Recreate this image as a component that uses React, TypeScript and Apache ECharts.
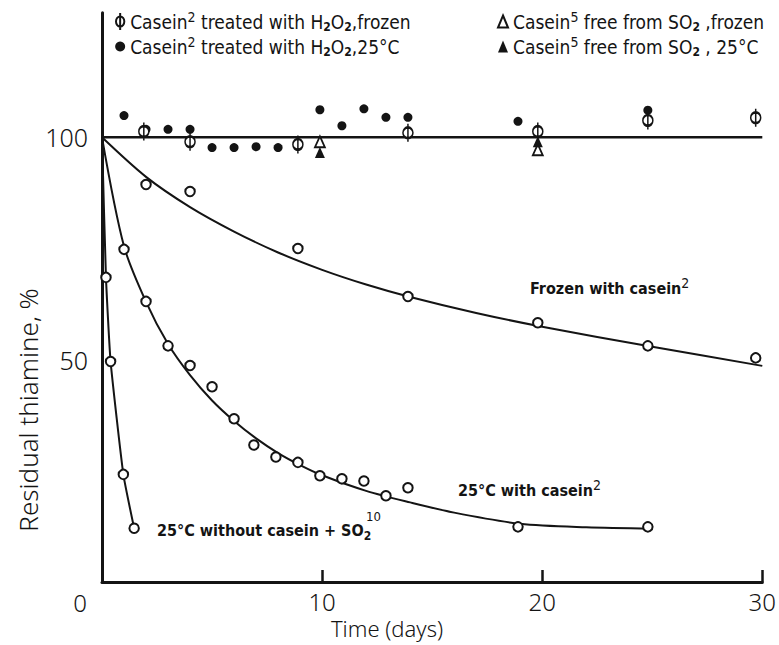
import React, { useEffect, useRef } from 'react';
import * as echarts from 'echarts';

// ---- axis ticks ----
const xTicks = [0, 10, 20, 30];
const yTicks = [0, 50, 100];

// ---- data (x = days, y = residual thiamine %) ----
const h2o2FrozenPts = [[1.9, 101.3], [4, 99.0], [8.9, 98.4], [13.9, 101.0], [19.8, 101.3], [24.8, 103.8], [29.7, 104.4]];
const h2o2WarmPts = [[1, 104.9], [2, 101.8], [3, 101.8], [4, 101.8], [5, 97.7], [6, 97.7], [7, 97.9], [8, 97.7], [9.9, 106.2], [10.9, 102.6], [11.9, 106.4], [12.9, 104.5], [13.9, 104.5], [18.9, 103.6], [24.8, 106.1]];
const so2FreeFrozenPts = [[9.9, 99.0], [19.8, 97.2]];
const so2FreeWarmPts = [[9.9, 96.6], [19.8, 99.0]];

const frozenCaseinPts = [[2, 89.4], [4, 87.8], [8.9, 75.0], [13.9, 64.2], [19.8, 58.3], [24.8, 53.1], [29.7, 50.4]];
const frozenCaseinCurve = [[0, 100], [2, 91.1], [4, 84.3], [6, 78.8], [8, 74.1], [10, 70.2], [12, 66.9], [14, 64.1], [17, 60.5], [20, 57.4], [25, 52.9], [30, 48.6]];

const warmCaseinPts = [[1, 74.8], [2, 63.1], [3, 53.1], [4, 48.7], [5, 43.9], [6, 36.7], [6.9, 30.8], [7.9, 28.1], [8.9, 26.9], [9.9, 23.9], [10.9, 23.2], [11.9, 22.7], [12.9, 19.4], [13.9, 21.2], [18.9, 12.4], [24.8, 12.4]];
const warmCaseinCurve = [[0, 100], [1, 75.5], [2, 63], [3, 53.5], [4, 46.5], [5, 40.8], [6, 36.2], [7, 32.3], [8, 29.0], [9, 26.3], [10, 24.0], [12, 20.5], [14, 17.9], [16, 15.6], [19, 13.1], [22, 12.3], [25, 12.0]];

const noCaseinPts = [[0.18, 68.5], [0.39, 49.6], [0.97, 24.2], [1.46, 12.1]];
const noCaseinCurve = [[0, 100], [0.18, 68.5], [0.39, 49.6], [0.97, 24.2], [1.46, 12.1]];

const controlLine = [[0, 100], [30, 100]];

// ---- names / labels ----
const NAME_H2O2_FROZEN = 'Casein2 treated with H2O2, frozen';
const NAME_H2O2_WARM = 'Casein2 treated with H2O2, 25°C';
const NAME_SO2_FROZEN = 'Casein5 free from SO2, frozen';
const NAME_SO2_WARM = 'Casein5 free from SO2, 25°C';

const legendRich: Record<string, string> = {
  [NAME_H2O2_FROZEN]: 'Casein{sup|2} treated with H{sub|2}O{sub|2},frozen',
  [NAME_H2O2_WARM]: 'Casein{sup|2} treated with H{sub|2}O{sub|2},25°C',
  [NAME_SO2_FROZEN]: 'Casein{sup|5} free from SO{sub|2} ,frozen',
  [NAME_SO2_WARM]: 'Casein{sup|5} free from SO{sub|2} , 25°C',
};

const INK = '#141414';
const NARROW = '"DejaVu Sans Condensed", "Liberation Sans Narrow", "Roboto Condensed", "Liberation Sans", sans-serif';
const AXISFONT = '"Noto Sans", Lato, "Open Sans", "DejaVu Sans", sans-serif';
const PHI = 'path://M5,0L5,18M0.6,9A4.4,5.4 0 1 1 9.4,9A4.4,5.4 0 1 1 0.6,9Z';

const richStyles = {
  sup: { fontSize: 14, verticalAlign: 'top', lineHeight: 13, fontFamily: NARROW, color: INK },
  sub: { fontSize: 12, verticalAlign: 'bottom', lineHeight: 12, fontFamily: NARROW, color: INK, fontWeight: 'bold' },
};

export default function App() {
  const ref = useRef<HTMLDivElement>(null);
  useEffect(() => {
    if (!ref.current) return;
    const chart = echarts.init(ref.current, undefined, { renderer: 'svg' });
    const openCircle = {
      type: 'scatter' as const,
      symbol: 'circle',
      symbolSize: 9.5,
      itemStyle: { color: '#fff', borderColor: INK, borderWidth: 2, opacity: 1 },
      z: 5,
      silent: true,
    };
    const curve = {
      type: 'line' as const,
      smooth: 0.3,
      showSymbol: false,
      symbol: 'none',
      lineStyle: { color: INK, width: 2 },
      z: 3,
      silent: true,
    };
    const legendBase = {
      orient: 'vertical' as const,
      top: 5,
      itemGap: 2,
      itemWidth: 10,
      selectedMode: false,
      formatter: (n: string) => legendRich[n] || n,
      textStyle: { fontSize: 19, fontFamily: NARROW, color: INK, lineHeight: 23, rich: richStyles },
    };
    chart.setOption({
      animation: false,
      backgroundColor: '#fff',
      grid: { left: 102, right: 15, top: 12.8, bottom: 63, containLabel: false },
      legend: [
        { ...legendBase, left: 110, itemHeight: 17, data: [NAME_H2O2_FROZEN, NAME_H2O2_WARM] },
        { ...legendBase, left: 492, itemHeight: 12, data: [NAME_SO2_FROZEN, NAME_SO2_WARM] },
      ],
      xAxis: {
        type: 'value',
        min: xTicks[0],
        max: xTicks[xTicks.length - 1],
        interval: 10,
        axisLine: { show: true, onZero: false, lineStyle: { color: INK, width: 3 } },
        axisTick: { show: true, inside: true, length: 12, lineStyle: { color: INK, width: 2.5 } },
        axisLabel: {
          margin: 7,
          fontSize: 24,
          fontFamily: AXISFONT,
          fontWeight: 300,
          color: INK,
          formatter: (v: number) => (v === 0 || !xTicks.includes(v) ? '' : String(v)),
        },
        splitLine: { show: false },
      },
      yAxis: {
        type: 'value',
        min: 0,
        max: 128,
        interval: 50,
        axisLine: { show: true, onZero: false, lineStyle: { color: INK, width: 3 } },
        axisTick: { show: false },
        axisLabel: {
          margin: 14,
          fontSize: 25,
          fontFamily: AXISFONT,
          fontWeight: 300,
          color: INK,
          showMaxLabel: false,
          formatter: (v: number) => (v === 0 || !yTicks.includes(v) ? '' : String(v)),
        },
        splitLine: { show: false },
      },
      series: [
        { ...curve, name: 'control', data: controlLine, smooth: false, lineStyle: { color: INK, width: 2.5 } },
        { ...curve, name: 'Frozen with casein curve', data: frozenCaseinCurve },
        { ...curve, name: '25°C with casein curve', data: warmCaseinCurve },
        { ...curve, name: '25°C without casein curve', data: noCaseinCurve, smooth: 0.15 },
        { ...openCircle, name: 'Frozen with casein', data: frozenCaseinPts },
        { ...openCircle, name: '25°C with casein', data: warmCaseinPts },
        { ...openCircle, name: '25°C without casein', data: noCaseinPts },
        {
          type: 'scatter', name: NAME_H2O2_WARM, data: h2o2WarmPts, symbol: 'circle', symbolSize: 9,
          itemStyle: { color: INK, opacity: 1 }, z: 6, silent: true,
        },
        {
          type: 'scatter', name: NAME_H2O2_FROZEN, data: h2o2FrozenPts, symbol: PHI, symbolSize: [10, 18],
          itemStyle: { color: '#fff', borderColor: INK, borderWidth: 2, opacity: 1 }, z: 7, silent: true,
        },
        {
          type: 'scatter', name: NAME_SO2_FROZEN, data: so2FreeFrozenPts, symbol: 'triangle', symbolSize: [10, 11],
          itemStyle: { color: '#fff', borderColor: INK, borderWidth: 1.8, opacity: 1 }, z: 7, silent: true,
        },
        {
          type: 'scatter', name: NAME_SO2_WARM, data: so2FreeWarmPts, symbol: 'triangle', symbolSize: [10, 11],
          itemStyle: { color: INK, opacity: 1 }, z: 7, silent: true,
        },
      ],
      graphic: [
        {
          type: 'text', x: 80, y: 602, silent: true,
          style: { text: '0', fontSize: 24, fontFamily: AXISFONT, fontWeight: 300, fill: INK, align: 'center', verticalAlign: 'middle' },
        },
        {
          type: 'text', x: 387, y: 628, silent: true,
          style: { text: 'Time (days)', fontSize: 22, fontFamily: AXISFONT, fontWeight: 300, fill: INK, align: 'center', verticalAlign: 'middle' },
        },
        {
          type: 'text', x: 28, y: 410, rotation: Math.PI / 2, silent: true,
          style: { text: 'Residual thiamine, %', fontSize: 26, fontFamily: AXISFONT, fontWeight: 300, fill: INK, align: 'center', verticalAlign: 'middle' },
        },
        {
          type: 'text', x: 530, y: 288, silent: true,
          style: {
            text: 'Frozen with casein{sup|2}', fontSize: 16, fontFamily: NARROW, fontWeight: 'bold', fill: INK,
            align: 'left', verticalAlign: 'middle', lineHeight: 24, rich: richStyles,
          },
        },
        {
          type: 'text', x: 458, y: 490, silent: true,
          style: {
            text: '25°C with casein{sup|2}', fontSize: 16, fontFamily: NARROW, fontWeight: 'bold', fill: INK,
            align: 'left', verticalAlign: 'middle', lineHeight: 24, rich: richStyles,
          },
        },
        {
          type: 'text', x: 157, y: 530, silent: true,
          style: {
            text: '25°C without casein + SO{sub|2}', fontSize: 16, fontFamily: NARROW, fontWeight: 'bold', fill: INK,
            align: 'left', verticalAlign: 'middle', lineHeight: 24, rich: richStyles,
          },
        },
        {
          type: 'text', x: 366, y: 516, silent: true,
          style: { text: '10', fontSize: 13, fontFamily: NARROW, fill: INK, align: 'left', verticalAlign: 'middle' },
        },
      ],
    });
    return () => chart.dispose();
  }, []);
  return <div ref={ref} style={{ position: 'fixed', left: 0, top: 0, width: 779, height: 645, background: '#fff' }} />;
}
